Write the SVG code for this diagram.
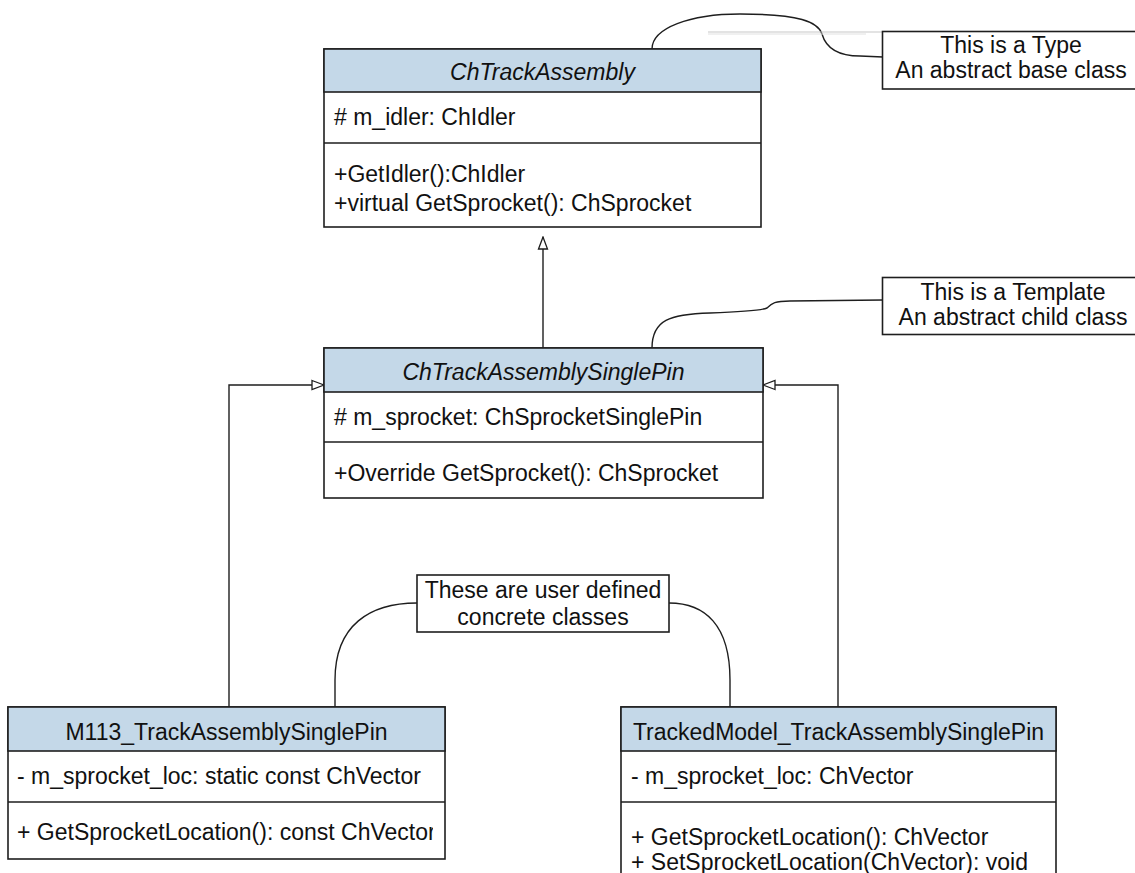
<svg xmlns="http://www.w3.org/2000/svg" width="1135" height="873" viewBox="0 0 1135 873">
<defs>
<style>
.box{fill:#ffffff;stroke:#1e1e1e;stroke-width:1.6}
.hdr{fill:#c4d8e8;stroke:#1e1e1e;stroke-width:1.6}
.div{stroke:#1e1e1e;stroke-width:1.6;fill:none}
.t{font-family:"Liberation Sans",Arial,sans-serif;font-size:23px;fill:#111111}
.c{text-anchor:middle}
.i{font-style:italic}
.conn{fill:none;stroke:#1e1e1e;stroke-width:1.4}
.ghost{fill:none;stroke-width:1.2}
</style>
<marker id="gen" viewBox="0 0 14 12" refX="13" refY="6" markerWidth="14" markerHeight="12" markerUnits="userSpaceOnUse" orient="auto">
<path d="M1,1.5 L13,6 L1,10.5 Z" fill="#ffffff" stroke="#1e1e1e" stroke-width="1.3"/>
</marker>
<clipPath id="clipM113"><rect x="8" y="802" width="425" height="57"/></clipPath>
</defs>
<rect width="1135" height="873" fill="#ffffff"/>

<g id="connectors">
<path class="conn" d="M543,348 L543,237" marker-end="url(#gen)"/>
<path class="conn" d="M229,707 L229,385 L324,385" marker-end="url(#gen)"/>
<path class="conn" d="M838,707 L838,385 L763,385" marker-end="url(#gen)"/>
<path class="conn" d="M652,49 C652,28 690,14 740,14 C800,14 818,22 822,34 C826,48 838,56 860,56 L883,57"/>
<path class="conn" d="M652,348 C652,320 670,314 710,313 C740,312 760,311 767,308 C772,303 775,301 790,301 L883,300"/>
<path class="conn" d="M417,603 C370,603 335,625 335,680 L335,707"/>
<path class="conn" d="M669,603 C705,603 730,625 730,680 L730,707"/>
<line class="ghost" x1="708" y1="32" x2="882" y2="32" stroke="#c8c8c8"/>
<line class="ghost" x1="708" y1="34" x2="866" y2="34" stroke="#e2e2e2"/>
</g>

<g id="ChTrackAssembly">
<rect class="box" x="324" y="49" width="437" height="178"/>
<rect class="hdr" x="324" y="49" width="437" height="43"/>
<line class="div" x1="324" y1="143" x2="761" y2="143"/>
<text class="t c i" x="542.5" y="80">ChTrackAssembly</text>
<text class="t" x="334" y="125"># m_idler: ChIdler</text>
<text class="t" x="334" y="182">+GetIdler():ChIdler</text>
<text class="t" x="334" y="211">+virtual GetSprocket(): ChSprocket</text>
</g>

<g id="ChTrackAssemblySinglePin">
<rect class="box" x="324" y="348" width="439" height="150"/>
<rect class="hdr" x="324" y="348" width="439" height="44"/>
<line class="div" x1="324" y1="442" x2="763" y2="442"/>
<text class="t c i" x="543.5" y="380">ChTrackAssemblySinglePin</text>
<text class="t" x="334" y="425"># m_sprocket: ChSprocketSinglePin</text>
<text class="t" x="334" y="481">+Override GetSprocket(): ChSprocket</text>
</g>

<g id="M113_TrackAssemblySinglePin">
<rect class="box" x="8" y="707" width="437" height="152"/>
<rect class="hdr" x="8" y="707" width="437" height="44"/>
<line class="div" x1="8" y1="802" x2="445" y2="802"/>
<text class="t c" x="226.5" y="740">M113_TrackAssemblySinglePin</text>
<text class="t" x="17" y="784">- m_sprocket_loc: static const ChVector</text>
<text class="t" x="17" y="840" clip-path="url(#clipM113)">+ GetSprocketLocation(): const ChVector</text>
</g>

<g id="TrackedModel_TrackAssemblySinglePin">
<rect class="box" x="621" y="707" width="435" height="200"/>
<rect class="hdr" x="621" y="707" width="435" height="44"/>
<line class="div" x1="621" y1="802" x2="1056" y2="802"/>
<text class="t c" x="838.5" y="740">TrackedModel_TrackAssemblySinglePin</text>
<text class="t" x="631" y="845">+ GetSprocketLocation(): ChVector</text>
<text class="t" x="631" y="784">- m_sprocket_loc: ChVector</text>
<text class="t" x="631" y="870">+ SetSprocketLocation(ChVector): void</text>
</g>

<g id="note-type">
<rect class="box" x="882.5" y="31.5" width="262" height="57.5"/>
<text class="t c" x="1011" y="53">This is a Type</text>
<text class="t c" x="1011" y="78">An abstract base class</text>
</g>

<g id="note-template">
<rect class="box" x="882.5" y="277.5" width="262" height="57"/>
<text class="t c" x="1013" y="300">This is a Template</text>
<text class="t c" x="1013" y="325">An abstract child class</text>
</g>

<g id="note-concrete">
<rect class="box" x="417" y="575" width="252" height="57"/>
<text class="t c" x="543" y="598">These are user defined</text>
<text class="t c" x="543" y="625">concrete classes</text>
</g>
</svg>
